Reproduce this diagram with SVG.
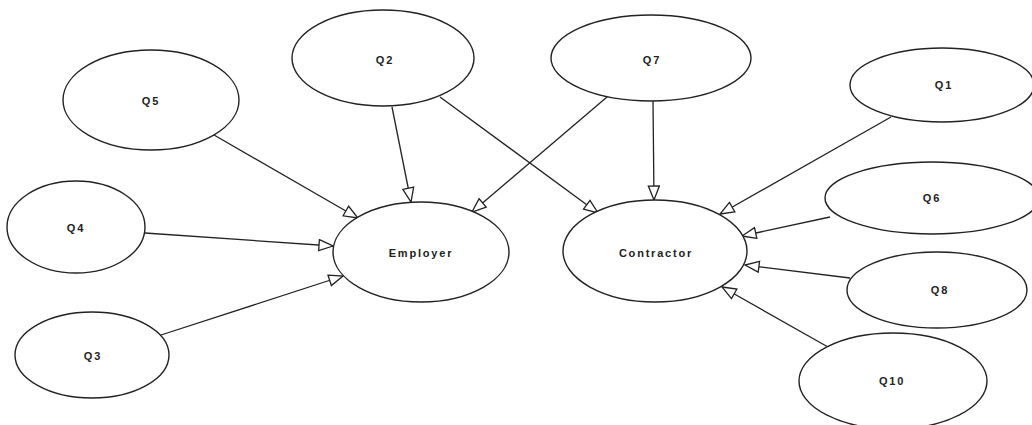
<svg xmlns="http://www.w3.org/2000/svg" width="1032" height="425" viewBox="0 0 1032 425">
<style>
.n ellipse{fill:#fff;stroke:#222;stroke-width:1.4}
.n text{font-family:"Liberation Sans",Arial,sans-serif;font-size:11px;letter-spacing:1.8px;fill:#222;text-anchor:middle;dominant-baseline:central;font-weight:bold}
.c line{stroke:#222;stroke-width:1.3;marker-end:url(#tri)}
</style>
<defs>
<marker id="tri" markerUnits="userSpaceOnUse" markerWidth="18" markerHeight="14" refX="15" refY="6.5" orient="auto">
<path d="M1,1 L15,6.5 L1,12 Z" fill="#fff" stroke="#222" stroke-width="1.3"/>
</marker>
</defs>
<rect width="1032" height="425" fill="#fff"/>
<g class="c" id="connectors">
<line x1="214" y1="135" x2="358" y2="218"/>
<line x1="392" y1="107" x2="411" y2="202"/>
<line x1="440" y1="97" x2="598" y2="213"/>
<line x1="607" y1="97" x2="472" y2="212"/>
<line x1="653" y1="101" x2="654" y2="200"/>
<line x1="891" y1="117" x2="720" y2="214"/>
<line x1="830" y1="217" x2="742" y2="236"/>
<line x1="850" y1="278" x2="745" y2="265"/>
<line x1="828" y1="347" x2="722" y2="287"/>
<line x1="145" y1="233" x2="333" y2="246"/>
<line x1="161" y1="335" x2="343" y2="276"/>
</g>
<g class="n" id="Q5"><ellipse cx="151" cy="100" rx="88" ry="50"/><text x="151" y="101">Q5</text></g>
<g class="n" id="Q2"><ellipse cx="383" cy="58" rx="91" ry="48"/><text x="385" y="60">Q2</text></g>
<g class="n" id="Q7"><ellipse cx="651" cy="58" rx="100" ry="43"/><text x="652" y="60">Q7</text></g>
<g class="n" id="Q1"><ellipse cx="942" cy="85" rx="92" ry="37"/><text x="944" y="85">Q1</text></g>
<g class="n" id="Q6"><ellipse cx="932" cy="198" rx="107" ry="36"/><text x="932" y="198">Q6</text></g>
<g class="n" id="Q4"><ellipse cx="76" cy="227" rx="69" ry="46"/><text x="76" y="228">Q4</text></g>
<g class="n" id="Employer"><ellipse cx="421" cy="252" rx="88" ry="50"/><text x="421" y="253">Employer</text></g>
<g class="n" id="Contractor"><ellipse cx="655" cy="251" rx="92" ry="51"/><text x="656" y="253">Contractor</text></g>
<g class="n" id="Q8"><ellipse cx="937" cy="290" rx="90" ry="38"/><text x="940" y="290">Q8</text></g>
<g class="n" id="Q3"><ellipse cx="92" cy="355" rx="77" ry="43"/><text x="93" y="356">Q3</text></g>
<g class="n" id="Q10"><ellipse cx="893" cy="381" rx="94" ry="48"/><text x="892" y="381">Q10</text></g>
</svg>
